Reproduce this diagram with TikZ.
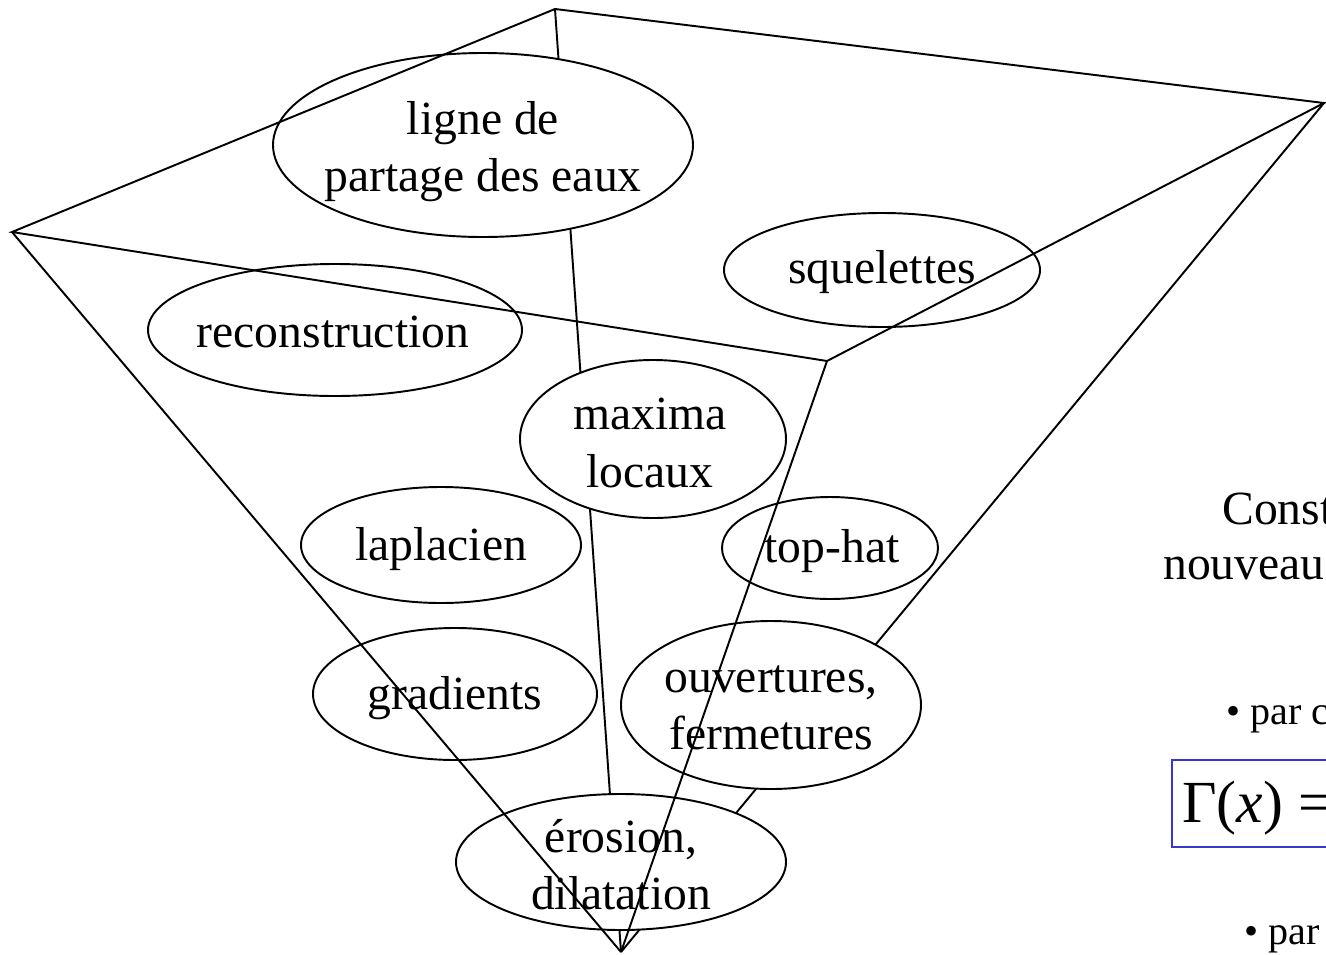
\documentclass[tikz,border=0pt]{standalone}
\usepackage{fontspec}
\setmainfont{Liberation Serif}

\newcommand*\pxunit{0.02cm}
\definecolor{cadre}{RGB}{55,55,205}
\tikzset{
    bulle/.style 2 args={
        draw,
        fill=white,
        line width=1.1pt,
        x radius={#1*\pxunit},
        y radius={#2*\pxunit}
    },
    mot/.style={
        font=\fontsize{27.1}{32.5}\selectfont,
        align=center,
        inner sep=0pt
    },
    puce/.style={
        font=\fontsize{22.8}{27}\selectfont,
        anchor=base west,
        inner sep=0pt
    },
    arete/.style={line width=1.1pt}
}

\begin{document}
\begin{tikzpicture}[x=\pxunit,y=-\pxunit]
    \useasboundingbox (0,0) rectangle (1326,954);
    \clip (0,0) rectangle (1326,954);

    % Corners of the pyramid.
    \coordinate (sommet) at (621,952);
    \coordinate (arriere) at (555,9);
    \coordinate (droite) at (1324,103);
    \coordinate (avant) at (827,361);
    \coordinate (gauche) at (12,232);

    % The hidden edges go first, the bubbles cover them.
    \draw[arete] (sommet) -- (arriere);
    \draw[arete] (sommet) -- (droite);

    % Bubbles, then their words.
    \draw[bulle={210}{92}] (483,145) ellipse [];
    \draw[bulle={158}{57}] (882,270) ellipse [];
    \draw[bulle={187}{66}] (335,330) ellipse [];
    \draw[bulle={133}{79}] (653,439) ellipse [];
    \draw[bulle={140}{58}] (441,545) ellipse [];
    \draw[bulle={108}{51}] (830,548) ellipse [];
    \draw[bulle={142}{66}] (455,694) ellipse [];
    \draw[bulle={150}{84}] (771,705) ellipse [];
    \draw[bulle={165}{68}] (621,862) ellipse [];

    \node[mot] (lpe) at (483,152) {ligne de\\partage des eaux};
    \node[mot] (squel) at (882,272) {squelettes};
    \node[mot] (recon) at (333,332) {reconstruction};
    \node[mot] (maxima) at (650,443) {maxima\\locaux};
    \node[mot] (lapl) at (441,549) {laplacien};
    \node[mot] (tophat) at (832,551) {top-hat};
    \node[mot] (grad) at (455,698) {gradients};
    \node[mot] (ouvfer) at (771,708) {ouvertures,\\fermetures};
    \node[mot] (erodil) at (621,865) {érosion,\\dilatation};

    % The edges in front.
    \draw[arete] (gauche) -- (arriere) -- (droite) -- (avant) -- cycle;
    \draw[arete] (sommet) -- (gauche);
    \draw[arete] (sommet) -- (avant);

    % Text on the right, cut by the page.
    \node[mot, anchor=base west] (titre) at (1222,524) {Const};
    \node[mot, anchor=base west] (titrebis) at (1163,579) {nouveau};
    \node[puce] (parun) at (1226,724) {• par c};
    \draw[cadre, line width=1.1pt] (1172,760) rectangle (1345,847);
    \node[anchor=base west, inner sep=0pt, font=\fontsize{34}{40}\selectfont] (gamma) at (1182,822) {Γ(\textit{x}) =};
    \node[puce] (pardeux) at (1244,944) {• par};
\end{tikzpicture}
\end{document}
